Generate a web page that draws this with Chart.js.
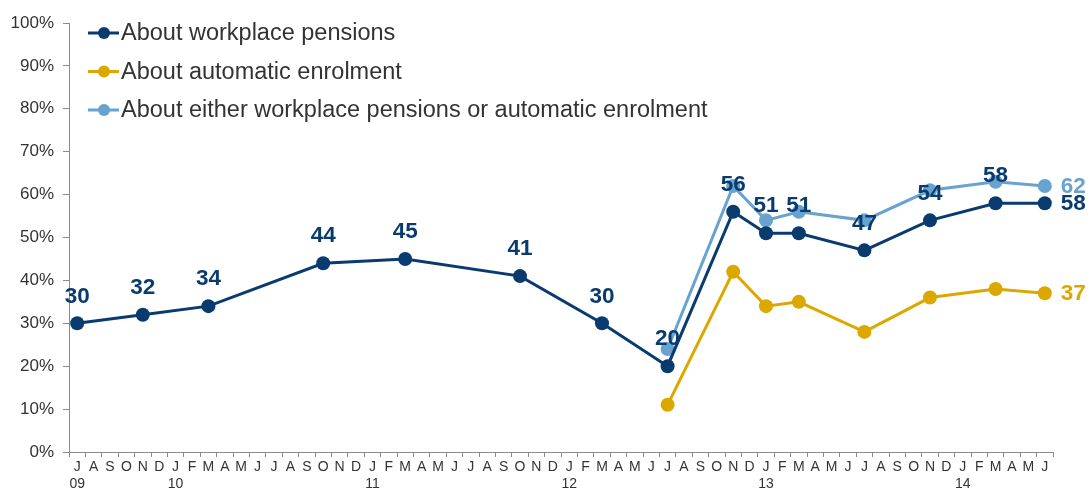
<!DOCTYPE html>
<html>
<head>
<meta charset="utf-8">
<title>Awareness of workplace pensions and automatic enrolment</title>
<script src="https://cdn.jsdelivr.net/npm/chart.js@4"></script>
<style>
    html, body { margin: 0; padding: 0; background: #ffffff; }
    #wrap { width: 1091px; height: 491px; }
</style>
</head>
<body>
<div id="wrap"><canvas id="awarenessChart" width="1091" height="491"></canvas></div>
<script>
// Monthly categories, Jul 2009 - Jun 2014
const categories = [
    '2009-07', '2009-08', '2009-09', '2009-10', '2009-11', '2009-12',
    '2010-01', '2010-02', '2010-03', '2010-04', '2010-05', '2010-06',
    '2010-07', '2010-08', '2010-09', '2010-10', '2010-11', '2010-12',
    '2011-01', '2011-02', '2011-03', '2011-04', '2011-05', '2011-06',
    '2011-07', '2011-08', '2011-09', '2011-10', '2011-11', '2011-12',
    '2012-01', '2012-02', '2012-03', '2012-04', '2012-05', '2012-06',
    '2012-07', '2012-08', '2012-09', '2012-10', '2012-11', '2012-12',
    '2013-01', '2013-02', '2013-03', '2013-04', '2013-05', '2013-06',
    '2013-07', '2013-08', '2013-09', '2013-10', '2013-11', '2013-12',
    '2014-01', '2014-02', '2014-03', '2014-04', '2014-05', '2014-06'
];
const monthLetters = ['J', 'F', 'M', 'A', 'M', 'J', 'J', 'A', 'S', 'O', 'N', 'D'];
const yTicks = [0, 10, 20, 30, 40, 50, 60, 70, 80, 90, 100];

// Survey waves
const wpDates = ['2009-07', '2009-11', '2010-03', '2010-10', '2011-03', '2011-10', '2012-03',
    '2012-07', '2012-11', '2013-01', '2013-03', '2013-07', '2013-11', '2014-03', '2014-06'];
const workplacePensions = [30, 32, 34, 44, 45, 41, 30, 20, 56, 51, 51, 47, 54, 58, 58];

const aeDates = ['2012-07', '2012-11', '2013-01', '2013-03', '2013-07', '2013-11', '2014-03', '2014-06'];
const automaticEnrolment = [11, 42, 34, 35, 28, 36, 38, 37];
const eitherWpOrAe = [24, 62, 54, 56, 54, 61, 63, 62];

const seriesNames = [
    'About workplace pensions',
    'About automatic enrolment',
    'About either workplace pensions or automatic enrolment'
];
const DARK_BLUE = '#0a3b6f';
const GOLD = '#dca800';
const LIGHT_BLUE = '#68a3cf';
const TEXT = '#333333';
const AXIS = '#8a8a8a';
const FONT = '"Liberation Sans", Arial, sans-serif';

function toPoints(dates, values) {
    return dates.map((d, i) => ({ x: d, y: values[i] }));
}

// Value labels: above each point, or only beside the last one
const valueLabels = {
    id: 'valueLabels',
    afterDatasetsDraw(chart) {
        const ctx = chart.ctx;
        ctx.save();
        ctx.font = 'bold 22.5px ' + FONT;
        chart.data.datasets.forEach((ds, i) => {
            const meta = chart.getDatasetMeta(i);
            const last = meta.data.length - 1;
            ctx.fillStyle = ds.borderColor;
            meta.data.forEach((pt, j) => {
                const v = ds.data[j].y;
                if (j === last) {
                    ctx.textAlign = 'left';
                    ctx.textBaseline = 'middle';
                    ctx.fillText(v, pt.x + 16, pt.y + 1);
                } else if (ds.labelAbove) {
                    ctx.textAlign = 'center';
                    ctx.textBaseline = 'middle';
                    ctx.fillText(v, pt.x, pt.y - 27);
                }
            });
        });
        ctx.restore();
    }
};

// Legend drawn inside the plot, line with dot markers
const lineLegend = {
    id: 'lineLegend',
    afterDraw(chart) {
        const ctx = chart.ctx;
        ctx.save();
        ctx.font = '23.5px ' + FONT;
        ctx.textAlign = 'left';
        ctx.textBaseline = 'middle';
        chart.data.datasets.forEach((ds, i) => {
            const y = 33 + i * 38.5;
            ctx.strokeStyle = ds.borderColor;
            ctx.lineWidth = 3;
            ctx.beginPath();
            ctx.moveTo(88, y);
            ctx.lineTo(119, y);
            ctx.stroke();
            ctx.fillStyle = ds.borderColor;
            ctx.beginPath();
            ctx.arc(104, y, 6, 0, Math.PI * 2);
            ctx.fill();
            ctx.fillStyle = TEXT;
            ctx.fillText(ds.label, 121, y + 1);
        });
        ctx.restore();
    }
};

const lineStyle = {
    borderWidth: 3,
    pointRadius: 7,
    pointHoverRadius: 7,
    pointBorderWidth: 0,
    tension: 0
};

new Chart(document.getElementById('awarenessChart'), {
    type: 'line',
    data: {
        labels: categories,
        datasets: [
            Object.assign({
                label: seriesNames[0],
                data: toPoints(wpDates, workplacePensions),
                borderColor: DARK_BLUE,
                backgroundColor: DARK_BLUE,
                pointBackgroundColor: DARK_BLUE,
                labelAbove: true
            }, lineStyle),
            Object.assign({
                label: seriesNames[1],
                data: toPoints(aeDates, automaticEnrolment),
                borderColor: GOLD,
                backgroundColor: GOLD,
                pointBackgroundColor: GOLD
            }, lineStyle),
            Object.assign({
                label: seriesNames[2],
                data: toPoints(aeDates, eitherWpOrAe),
                borderColor: LIGHT_BLUE,
                backgroundColor: LIGHT_BLUE,
                pointBackgroundColor: LIGHT_BLUE
            }, lineStyle)
        ]
    },
    options: {
        responsive: false,
        animation: false,
        events: [],
        layout: { padding: { top: 23, right: 38, bottom: 0, left: 0 } },
        plugins: {
            legend: { display: false },
            tooltip: { enabled: false }
        },
        scales: {
            x: {
                type: 'category',
                offset: true,
                afterFit(scale) { scale.height = 39; },
                border: { display: true, color: AXIS, width: 1 },
                grid: {
                    offset: true,
                    drawOnChartArea: false,
                    drawTicks: true,
                    tickLength: 5,
                    color: AXIS
                },
                ticks: {
                    autoSkip: false,
                    maxRotation: 0,
                    minRotation: 0,
                    padding: 2,
                    color: TEXT,
                    font: { family: FONT, size: 14, lineHeight: 1.2 },
                    callback(value, index) {
                        const key = categories[index];
                        const month = parseInt(key.slice(5), 10);
                        const letter = monthLetters[month - 1];
                        if (index === 0 || month === 1) return [letter, key.slice(2, 4)];
                        return letter;
                    }
                }
            },
            y: {
                min: 0,
                max: 100,
                afterFit(scale) { scale.width = 69; },
                afterBuildTicks(scale) { scale.ticks = yTicks.map(v => ({ value: v })); },
                border: { display: true, color: AXIS, width: 1 },
                grid: {
                    drawOnChartArea: false,
                    drawTicks: true,
                    tickLength: 6,
                    color: AXIS
                },
                ticks: {
                    padding: 9,
                    color: TEXT,
                    font: { family: FONT, size: 17 },
                    callback: v => v + '%'
                }
            }
        }
    },
    plugins: [valueLabels, lineLegend]
});
</script>
</body>
</html>
